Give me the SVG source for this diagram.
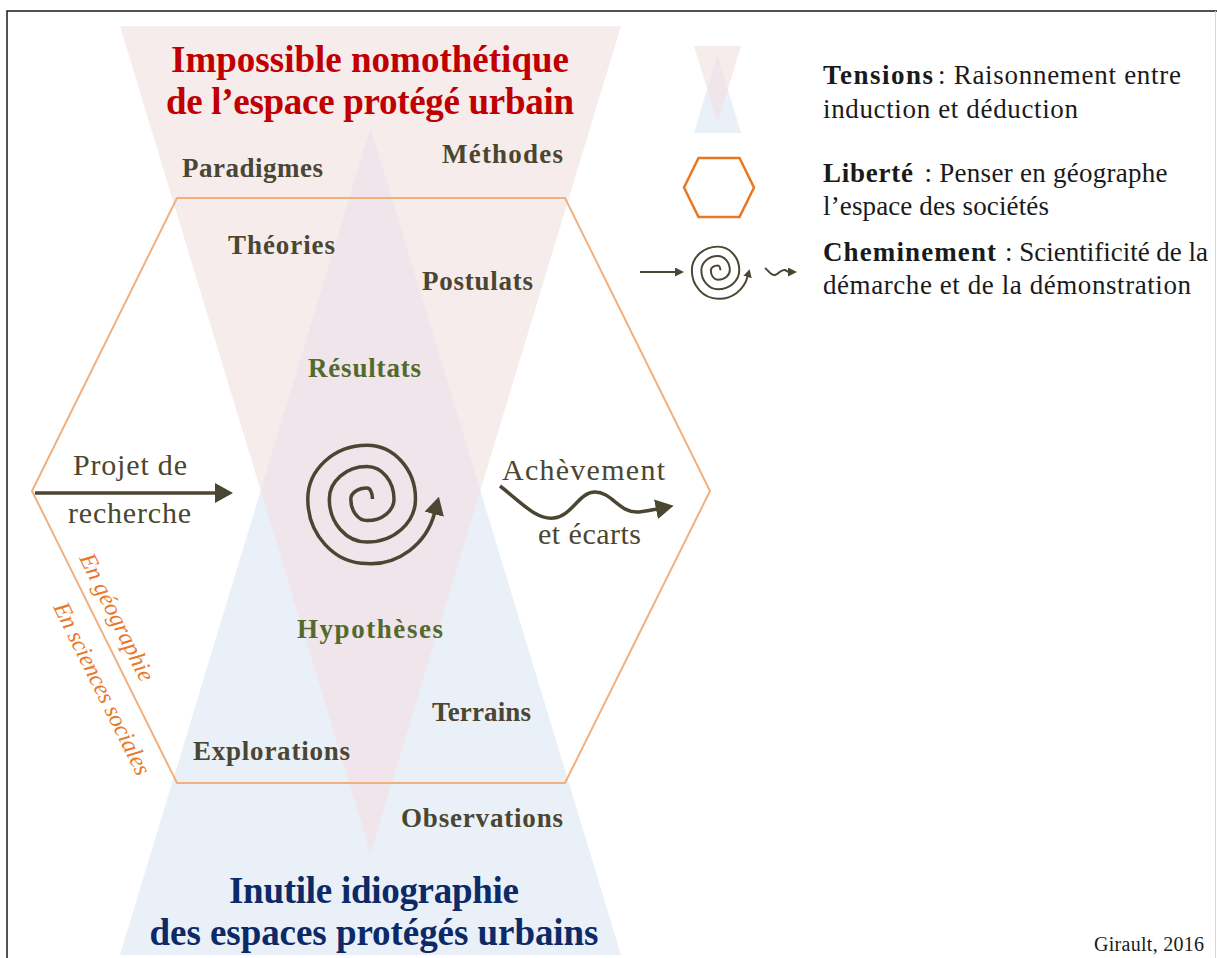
<svg xmlns="http://www.w3.org/2000/svg" width="1217" height="958" viewBox="0 0 1217 958">
<defs>
<style>
text{font-family:"Liberation Serif","Times New Roman",serif;}
.lbl{font-size:27px;font-weight:bold;fill:#4b4632;text-anchor:middle;}
.grn{fill:#536a2e;}
.reg{font-size:30px;fill:#4b4632;text-anchor:middle;}
.ttlr{font-size:37px;font-weight:bold;fill:#c00000;text-anchor:middle;}
.ttlb{font-size:37px;font-weight:bold;fill:#0d2a68;text-anchor:middle;}
.leg{font-size:27px;fill:#1a1a1a;}
.legb{font-weight:bold;}
.rot{font-size:24px;font-style:italic;fill:#e8782a;}
.ln{fill:none;stroke:#4b4632;stroke-width:3.5;}
.lns{fill:none;stroke:#4b4632;stroke-width:2;}
.pink{fill:#f6ecec;}
.blue{fill:#eaf0f7;}
.mix{fill:#efe5ea;}
.hex{fill:none;stroke:#f2b07e;stroke-width:2;}
</style>
<marker id="ah" viewBox="0 0 18 20" markerWidth="18" markerHeight="20" refX="1" refY="10" orient="auto" markerUnits="userSpaceOnUse"><path d="M0,0 L18,10 L0,20 Z" fill="#4b4632"/></marker>
<marker id="ahs" viewBox="0 0 9 9" markerWidth="9" markerHeight="9" refX="1" refY="4.5" orient="auto" markerUnits="userSpaceOnUse"><path d="M0,0 L9,4.5 L0,9 Z" fill="#4b4632"/></marker>
<path id="sp" d="M372.5,499 A5.5,10.9 0 0 0 367,488.1 A16.2,10.9 0 0 0 350.8,499 A16.2,21.6 0 0 0 367,520.6 A27,21.6 0 0 0 394,499 A27,32.4 0 0 0 367,466.6 A37.7,32.4 0 0 0 329.3,499 A37.7,43.1 0 0 0 367,542.1 A48.5,43.1 0 0 0 415.5,499 A48.5,53.8 0 0 0 367,445.2 A59.2,53.8 0 0 0 307.8,499 A59.2,64.6 0 0 0 367,563.6 C398.6,565.3 426.4,543.8 434.5,513.3"/>
</defs>

<rect width="1217" height="958" fill="#ffffff"/>
<path d="M7,958 V11 H1217" fill="none" stroke="#1a1a1a" stroke-width="1.5"/>
<line x1="1215.5" y1="11" x2="1215.5" y2="958" stroke="#d4d4d4" stroke-width="1"/>

<g id="tensions">
<polygon class="pink" points="120,26 621,26 370.5,853"/>
<polygon class="blue" points="370.5,128 621,955 120,955"/>
<polygon class="mix" points="370.5,128 480.3,490.5 370.5,853 260.7,490.5"/>
</g>

<g id="liberte">
<polygon class="hex" points="177,198 565,198 710,491 565,783 177,783 32,491"/>
</g>

<g id="titre-haut">
<text class="ttlr" x="370" y="72" textLength="398">Impossible nomothétique</text>
<text class="ttlr" x="370" y="114" textLength="408">de l’espace protégé urbain</text>
</g>
<g id="titre-bas">
<text class="ttlb" x="374" y="903" textLength="290">Inutile idiographie</text>
<text class="ttlb" x="374" y="945" textLength="449">des espaces protégés urbains</text>
</g>

<g id="paradigmes"><text class="lbl" x="252.5" y="177" textLength="141">Paradigmes</text></g>
<g id="methodes"><text class="lbl" x="502.5" y="163" textLength="121">Méthodes</text></g>
<g id="theories"><text class="lbl" x="281.5" y="254" textLength="107">Théories</text></g>
<g id="postulats"><text class="lbl" x="477.5" y="290" textLength="111">Postulats</text></g>
<g id="resultats"><text class="lbl grn" x="364.5" y="377" textLength="113">Résultats</text></g>
<g id="hypotheses"><text class="lbl grn" x="370" y="638" textLength="146">Hypothèses</text></g>
<g id="terrains"><text class="lbl" x="481.5" y="721" textLength="99">Terrains</text></g>
<g id="explorations"><text class="lbl" x="271.5" y="760" textLength="157">Explorations</text></g>
<g id="observations"><text class="lbl" x="482" y="827" textLength="162">Observations</text></g>

<g id="projet">
<text class="reg" x="130" y="475" textLength="114">Projet de</text>
<text class="reg" x="129.5" y="523" textLength="123">recherche</text>
</g>
<g id="achevement">
<text class="reg" x="583.5" y="480" textLength="163">Achèvement</text>
<text class="reg" x="589.5" y="544" textLength="103">et écarts</text>
</g>

<g id="cadres">
<text class="rot" transform="translate(79,558) rotate(63.6)" textLength="140">En géographie</text>
<text class="rot" transform="translate(53,607) rotate(63.6)" textLength="190">En sciences sociales</text>
</g>

<g id="connectors">
<path class="ln" d="M35,493 H216" marker-end="url(#ah)"/>
<use href="#sp" class="ln" marker-end="url(#ah)"/>
<path class="ln" d="M500,486 C522,503 536,520 554,518 C572,516 579,492 595,492 C612,492 620,514 639,512 C647,511 652,510 657,509" marker-end="url(#ah)"/>
</g>

<g id="legende">
<g id="leg-tensions">
<polygon class="pink" points="694,46 741,46 717.5,123"/>
<polygon class="blue" points="717.5,55 741,133 694,133"/>
<polygon class="mix" points="717.5,55 727.7,89.5 717.5,123 707.3,89.5"/>
<text class="leg legb" x="823" y="84" textLength="110">Tensions</text>
<text class="leg" x="938" y="84" textLength="243">: Raisonnement entre</text>
<text class="leg" x="823" y="118" textLength="255">induction et déduction</text>
</g>
<g id="leg-liberte">
<polygon points="684,187.5 698.5,158 739.5,158 754,187.5 739.5,217 698.5,217" fill="none" stroke="#e87722" stroke-width="2.5"/>
<text class="leg legb" x="823" y="182" textLength="90">Liberté</text>
<text class="leg" x="924.5" y="182" textLength="243">: Penser en géographe</text>
<text class="leg" x="823" y="215" textLength="226">l’espace des sociétés</text>
</g>
<g id="leg-cheminement">
<path class="lns" d="M640,272 H676" marker-end="url(#ahs)"/>
<use href="#sp" transform="translate(721,272.5) scale(0.44) translate(-374,-504)" fill="none" stroke="#4b4632" stroke-width="4.5" marker-end="url(#ah)"/>
<path class="lns" d="M765,268 C769,271 771,276 775,275 C779,274 781,269 785,270 C787,271 788,272 789,272" marker-end="url(#ahs)"/>
<text class="leg legb" x="823" y="261" textLength="173">Cheminement</text>
<text class="leg" x="1005" y="261" textLength="203">: Scientificité de la</text>
<text class="leg" x="823" y="294" textLength="368">démarche et de la démonstration</text>
</g>
</g>

<g id="source">
<text x="1204" y="951" font-size="20" fill="#1a1a1a" text-anchor="end" textLength="110">Girault, 2016</text>
</g>
</svg>
